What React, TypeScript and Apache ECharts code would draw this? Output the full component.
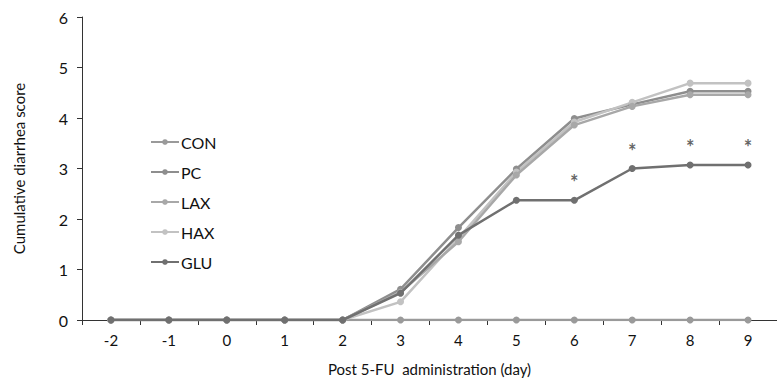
import React, { useEffect, useRef } from "react";
import * as echarts from "echarts";

const days = ["-2", "-1", "0", "1", "2", "3", "4", "5", "6", "7", "8", "9"];
const CON = [0, 0, 0, 0, 0, 0, 0, 0, 0, 0, 0, 0];
const PC = [0, 0, 0, 0, 0, 0.61, 1.83, 2.99, 3.99, 4.27, 4.53, 4.53];
const LAX = [0, 0, 0, 0, 0, 0.55, 1.55, 2.87, 3.86, 4.23, 4.46, 4.46];
const HAX = [0, 0, 0, 0, 0, 0.36, 1.62, 2.93, 3.92, 4.31, 4.69, 4.69];
const GLU = [0, 0, 0, 0, 0, 0.53, 1.68, 2.37, 2.37, 3.0, 3.07, 3.07];
const stars: (number | null)[] = [null, null, null, null, null, null, null, null, 2.74, 3.35, 3.42, 3.42];
const yTicks = [0, 1, 2, 3, 4, 5, 6];

const FONT = "Lato";

export default function App() {
  const ref = useRef<HTMLDivElement>(null);
  useEffect(() => {
    if (!ref.current) return;
    const chart = echarts.init(ref.current, null, { renderer: "svg" });
    const mk = (name: string, data: number[], color: string, z: number) => ({
      name,
      type: "line",
      data,
      z,
      symbol: "circle",
      symbolSize: 7,
      lineStyle: { width: 2.5, color },
      itemStyle: { color },
    });
    chart.setOption({
      animation: false,
      backgroundColor: "#ffffff",
      textStyle: { fontFamily: FONT },
      grid: { left: 82, top: 17, right: -11, bottom: 63, containLabel: false },
      legend: {
        data: ["CON", "PC", "LAX", "HAX", "GLU"],
        orient: "vertical",
        left: 145,
        top: 129,
        itemGap: 14,
        itemWidth: 28,
        itemHeight: 7,
        textStyle: { fontSize: 16, color: "#111", fontFamily: FONT, padding: [0, 0, 0, -3] },
      },
      xAxis: {
        type: "category",
        data: days,
        boundaryGap: true,
        name: "Post 5-FU  administration (day)",
        nameLocation: "middle",
        nameGap: 41,
        nameTextStyle: { fontSize: 15, color: "#111", fontFamily: FONT },
        axisLine: { lineStyle: { color: "#333", width: 1 } },
        axisTick: { show: true, inside: false, length: 5, lineStyle: { color: "#333" } },
        axisLabel: { fontSize: 15, color: "#111", margin: 12 },
        splitLine: { show: false },
      },
      yAxis: {
        type: "value",
        min: 0,
        max: 6,
        interval: 1,
        name: "Cumulative diarrhea score",
        nameLocation: "middle",
        nameGap: 56,
        nameTextStyle: { fontSize: 15, color: "#111", fontFamily: FONT },
        axisLine: { show: true, lineStyle: { color: "#333", width: 1 } },
        axisTick: { show: true, inside: false, length: 5, lineStyle: { color: "#333" } },
        axisLabel: { fontSize: 16, color: "#111", margin: 14, formatter: (v: number) => (yTicks.includes(v) ? String(v) : "") },
        splitLine: { show: false },
      },
      series: [
        mk("CON", CON, "#9a9a9a", 2),
        mk("PC", PC, "#8e8e8e", 3),
        mk("LAX", LAX, "#a8a8a8", 4),
        mk("HAX", HAX, "#c2c2c2", 3),
        mk("GLU", GLU, "#707070", 5),
        {
          name: "sig",
          type: "scatter",
          data: stars.map((v) => (v === null ? "-" : v)),
          symbolSize: 1,
          itemStyle: { color: "rgba(0,0,0,0)" },
          label: {
            show: true,
            position: "inside",
            formatter: "*",
            fontSize: 20,
            fontWeight: "bold",
            color: "#3a3a3a",
            fontFamily: FONT,
          },
          z: 6,
        },
      ],
    });
    return () => chart.dispose();
  }, []);
  return <div ref={ref} style={{ width: 777, height: 383, position: "absolute", left: 0, top: 0 }} />;
}
